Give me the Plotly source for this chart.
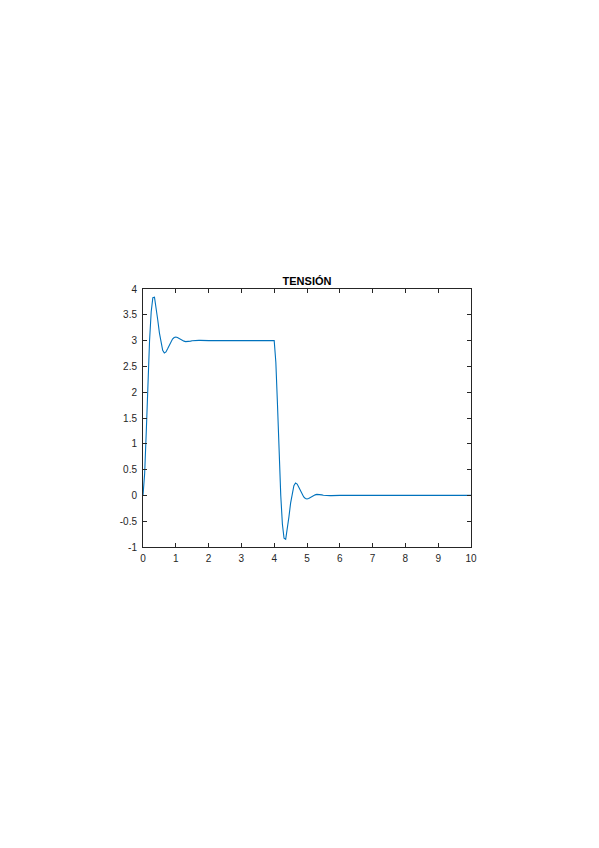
"""Step response plot 'TENSIÓN' (MATLAB-style axes) rebuilt with Plotly."""

import plotly.graph_objects as go

# time samples (s) and voltage
time_s = [
    0.0, 0.05, 0.1, 0.15, 0.2, 0.25, 0.3, 0.35, 0.4, 0.45,
    0.5, 0.55, 0.6, 0.65, 0.7, 0.75, 0.8, 0.85, 0.9, 0.95,
    1.0, 1.05, 1.1, 1.15, 1.2, 1.25, 1.3, 1.35, 1.4, 1.45,
    1.5, 1.55, 1.6, 1.65, 1.7, 1.75, 1.8, 1.9, 2.0,
    4.0, 4.05, 4.1, 4.15, 4.2, 4.25, 4.3, 4.35, 4.4, 4.45,
    4.5, 4.55, 4.6, 4.65, 4.7, 4.75, 4.8, 4.85, 4.9, 4.95,
    5.0, 5.05, 5.1, 5.15, 5.2, 5.25, 5.3, 5.35, 5.4, 5.45,
    5.5, 5.55, 5.6, 5.65, 5.7, 5.75, 5.8, 5.9, 6.0,
    10.0,
]
tension = [
    0.0, 0.42, 1.24, 2.18, 3.0, 3.56, 3.83, 3.84, 3.66, 3.40,
    3.15, 2.94, 2.81, 2.76, 2.78, 2.84, 2.91, 2.98, 3.03, 3.06,
    3.07, 3.06, 3.04, 3.02, 3.0, 2.99, 2.98, 2.98, 2.985, 2.99,
    2.997, 3.002, 3.004, 3.005, 3.005, 3.004, 3.002, 3.0, 3.0,
    3.0, 2.58, 1.76, 0.82, 0.0, -0.56, -0.83, -0.85, -0.67, -0.41,
    -0.15, 0.06, 0.19, 0.24, 0.22, 0.16, 0.09, 0.02, -0.03, -0.06,
    -0.07, -0.06, -0.04, -0.02, 0.0, 0.01, 0.02, 0.02, 0.015, 0.01,
    0.003, -0.002, -0.004, -0.005, -0.005, -0.004, -0.002, 0.0, 0.0,
    0.0,
]

x_ticks = [0, 1, 2, 3, 4, 5, 6, 7, 8, 9, 10]
y_ticks = [-1, -0.5, 0, 0.5, 1, 1.5, 2, 2.5, 3, 3.5, 4]
y_tick_text = ["-1", "-0.5", "0", "0.5", "1", "1.5", "2", "2.5", "3", "3.5", "4"]

AXIS_COLOR = "#262626"

fig = go.Figure(
    go.Scatter(
        x=time_s,
        y=tension,
        mode="lines",
        line={"color": "#0072BD", "width": 1.1},
        showlegend=False,
    )
)

axis_common = dict(
    showgrid=False,
    zeroline=False,
    showline=True,
    linecolor=AXIS_COLOR,
    linewidth=1,
    mirror="ticks",
    ticks="inside",
    ticklen=4,
    tickwidth=1,
    tickcolor=AXIS_COLOR,
    tickfont={"family": "Liberation Sans, Arial, sans-serif", "size": 10, "color": AXIS_COLOR},
)

fig.update_xaxes(range=[0, 10], tickvals=x_ticks, ticklabelstandoff=2, **axis_common)
fig.update_yaxes(range=[-1, 4], tickvals=y_ticks, ticktext=y_tick_text,
                 ticklabelstandoff=3, **axis_common)

# the page body adds an 8 px offset, so margins are shifted to compensate
fig.update_layout(
    width=599,
    height=848,
    margin={"l": 135, "r": 136, "t": 281, "b": 309},
    paper_bgcolor="white",
    plot_bgcolor="white",
    title={
        "text": "<b>TENSIÓN</b>",
        "x": 0.5,
        "xref": "paper",
        "xanchor": "center",
        "y": 1,
        "yref": "paper",
        "yanchor": "bottom",
        "pad": {"b": 4},
        "font": {"family": "Liberation Sans, Arial, sans-serif", "size": 11, "color": "black"},
    },
)

fig.write_html("out.html")
